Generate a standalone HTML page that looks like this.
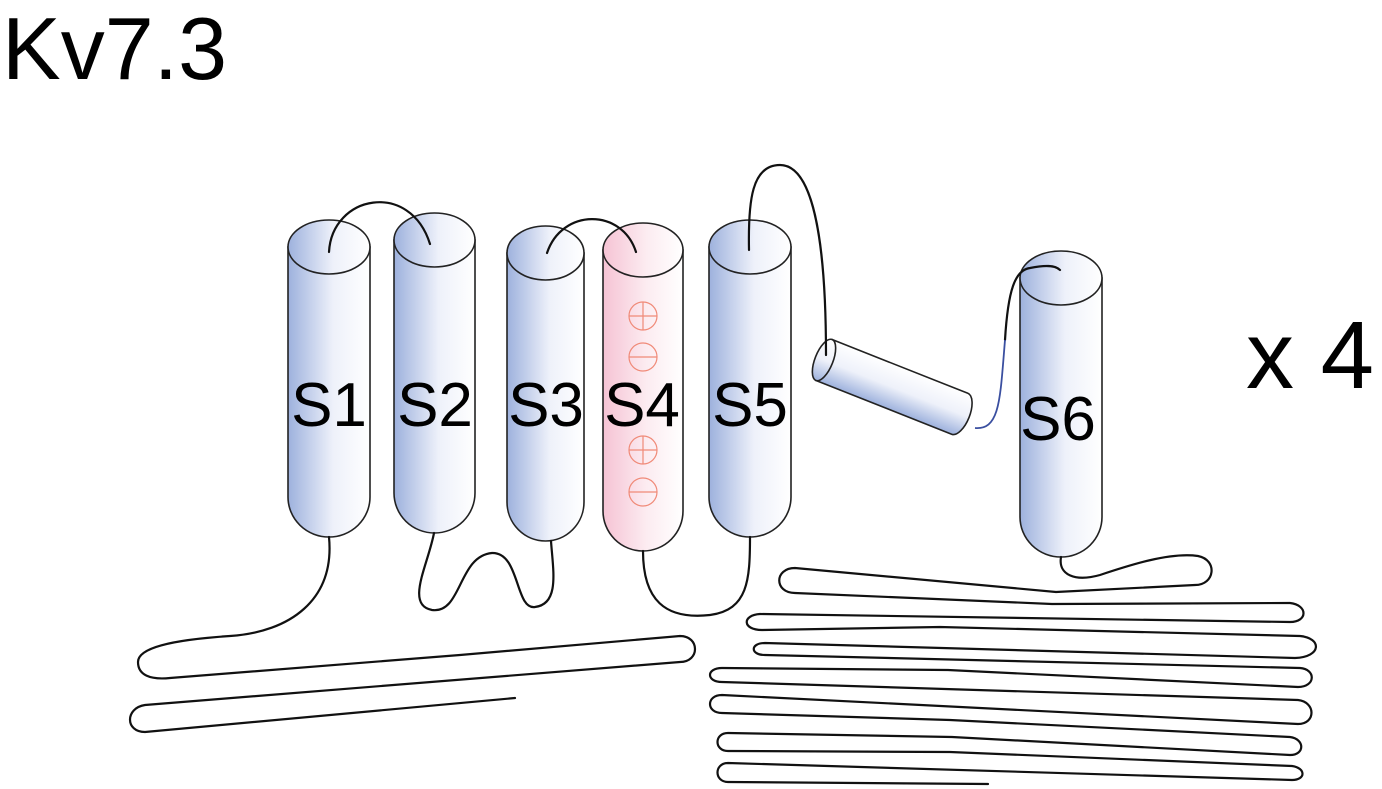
<!DOCTYPE html>
<html><head><meta charset="utf-8"><style>
html,body{margin:0;padding:0;background:#fff;}
svg{display:block;}
text{font-family:"Liberation Sans",Arial,sans-serif;}
</style></head><body>
<svg width="1382" height="789" viewBox="0 0 1382 789" xmlns="http://www.w3.org/2000/svg">
<defs>
<linearGradient id="b" x1="0" x2="1" y1="0" y2="0"><stop offset="0" stop-color="#9db1dd"/><stop offset="0.55" stop-color="#eef1fa"/><stop offset="1" stop-color="#ffffff"/></linearGradient>
<linearGradient id="p" x1="0" x2="1" y1="0" y2="0"><stop offset="0" stop-color="#f6c3d4"/><stop offset="0.55" stop-color="#fcecf1"/><stop offset="1" stop-color="#ffffff"/></linearGradient>
<linearGradient id="t" x1="0" x2="0" y1="0" y2="1"><stop offset="0" stop-color="#ffffff"/><stop offset="0.5" stop-color="#eef1fa"/><stop offset="1" stop-color="#9db1dd"/></linearGradient>
</defs>
<text x="2" y="79" font-size="88">Kv7.3</text>
<text x="1246" y="388" font-size="96">x 4</text>

<g stroke="#222" stroke-width="1.6">
<path d="M288,247 L288,497 A41,40 0 0 0 370,497 L370,247 Z" fill="url(#b)"/>
<ellipse cx="329" cy="247" rx="41" ry="27" fill="url(#b)"/>
<path d="M394,240 L394,493 A40.5,40 0 0 0 475,493 L475,240 Z" fill="url(#b)"/>
<ellipse cx="434.5" cy="240" rx="40.5" ry="27" fill="url(#b)"/>
<path d="M507,253 L507,502 A38.5,39 0 0 0 584,502 L584,253 Z" fill="url(#b)"/>
<ellipse cx="545.5" cy="253" rx="38.5" ry="27" fill="url(#b)"/>
<path d="M603,250 L603,511 A40,40 0 0 0 683,511 L683,250 Z" fill="url(#p)"/>
<ellipse cx="643" cy="250" rx="40" ry="27" fill="url(#p)"/>
<path d="M709,247 L709,497 A41,40 0 0 0 791,497 L791,247 Z" fill="url(#b)"/>
<ellipse cx="750" cy="247" rx="41" ry="27" fill="url(#b)"/>
<path d="M1020,278 L1020,517 A41,40 0 0 0 1102,517 L1102,278 Z" fill="url(#b)"/>
<ellipse cx="1061" cy="278" rx="41" ry="27" fill="url(#b)"/>
<g transform="translate(824,360) rotate(21.6)">
<path d="M0,-22 L146,-22 A10,22 0 0 1 146,22 L0,22 Z" fill="url(#t)"/>
<ellipse cx="0" cy="0" rx="9" ry="22" fill="url(#t)"/>
</g>
</g>

<g fill="none" stroke="#f08a78" stroke-width="1.2">
<circle cx="643" cy="316" r="14"/><path d="M629,316H657M643,302V330"/>
<circle cx="643" cy="357" r="14"/><path d="M629,357H657"/>
<circle cx="643" cy="450" r="14"/><path d="M629,450H657M643,436V464"/>
<circle cx="643" cy="492" r="14"/><path d="M629,492H657"/>
</g>

<g font-size="62" text-anchor="middle">
<text x="329" y="426">S1</text>
<text x="435" y="426">S2</text>
<text x="546" y="426">S3</text>
<text x="642" y="426">S4</text>
<text x="750" y="426">S5</text>
<text x="1058" y="440">S6</text>
</g>

<g fill="none" stroke="#111" stroke-width="2.2" stroke-linecap="round">
<path d="M329,252 C332,195 410,180 430,244"/>
<path d="M547,253 C562,208 622,208 636,252"/>
<path d="M749,250 C748,200 752,165 780,165 C815,165 826,250 826,355"/>
<path d="M1005,340 C1008,290 1015,270 1030,268 C1045,265 1055,265 1060,270"/>
<path d="M329,537 C335,600 290,632 230,636 C170,640 138,648 138,662 C138,675 150,680 170,678 L460,655 L680,636 C700,636 700,662 680,662 L145,705 C125,708 125,732 145,732 L515,698"/>
<path d="M434,533 C428,565 405,605 432,610 C462,614 458,556 492,553 C520,552 515,610 535,607 C560,604 553,570 551,541"/>
<path d="M643,551 C643,600 665,620 710,615 C748,610 750,580 750,537"/>
<path d="M1061,557 C1058,575 1075,582 1100,575 C1130,565 1170,552 1198,556 C1218,560 1215,585 1195,585 L1056,592 L795,568 C774,568 774,593 795,593 L1052,604 L1290,603 C1308,605 1308,622 1290,622 L760,614 C742,615 742,630 762,630 L940,627 L1300,636 C1322,638 1322,657 1295,658 L765,643 C750,643 750,655 765,655 L1300,668 C1316,669 1316,687 1298,687 L948,670 L722,668 C706,668 706,682 722,682 L1298,700 C1316,702 1316,724 1298,724 L722,695 C706,695 706,713 722,713 L950,720 L1290,737 C1305,739 1305,755 1290,755 L952,737 L728,733 C714,733 714,751 728,751 L950,752 L1292,766 C1306,768 1306,780 1292,780 L728,763 C714,763 714,782 728,782 L988,784"/>
</g>
<path d="M975,428 C1000,430 1000,400 1005,340" fill="none" stroke="#3a4fa0" stroke-width="1.8"/>
</svg>
</body></html>
